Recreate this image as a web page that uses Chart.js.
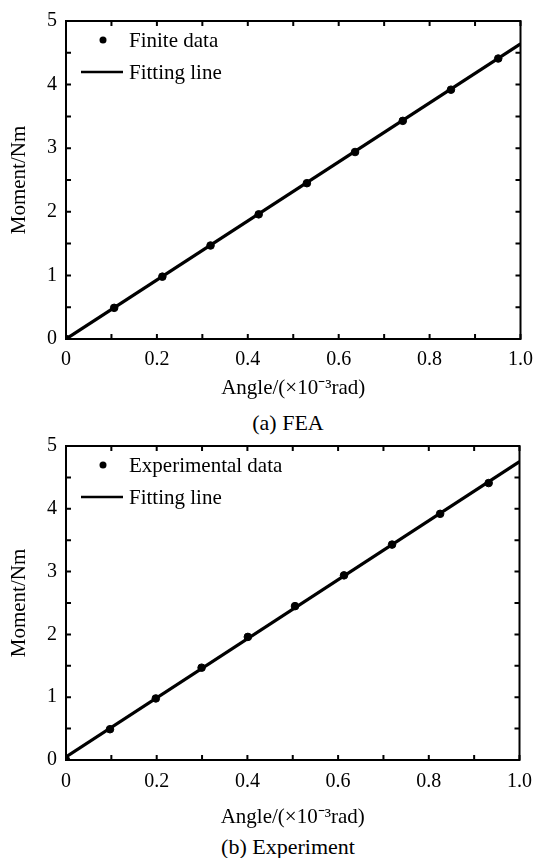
<!DOCTYPE html>
<html>
<head>
<meta charset="utf-8">
<script src="https://cdn.jsdelivr.net/npm/chart.js@4.4.1/dist/chart.umd.min.js"></script>
<style>
  html, body { margin: 0; padding: 0; background: #fff; }
  body { width: 542px; height: 858px; position: relative; overflow: hidden; font-family: "Liberation Serif", "Times New Roman", serif; }
  .panel { position: absolute; left: 0; }
  .caption { position: absolute; left: 0; width: 576px; text-align: center; font-size: 22px; line-height: 26px; color: #000; }
</style>
</head>
<body>
<canvas id="feaChart" class="panel" width="542" height="405" style="top:0"></canvas>
<div class="caption" style="top:410px">(a) FEA</div>
<canvas id="expChart" class="panel" width="542" height="405" style="top:425px"></canvas>
<div class="caption" style="top:834px">(b) Experiment</div>
<script>
const SERIF = '"Liberation Serif", "Times New Roman", serif';

// (a) FEA
const feaAngle = [0, 0.106, 0.212, 0.318, 0.424, 0.530, 0.636, 0.741, 0.847, 0.951];
const feaMoment = [0, 0.49, 0.98, 1.47, 1.96, 2.45, 2.94, 3.43, 3.92, 4.41];
const feaFitAngle = [0, 1.0];
const feaFitMoment = [0, 4.64];

// (b) Experiment
const expAngle = [0, 0.097, 0.198, 0.299, 0.401, 0.505, 0.613, 0.719, 0.825, 0.932];
const expMoment = [0, 0.49, 0.98, 1.47, 1.96, 2.45, 2.94, 3.43, 3.92, 4.41];
const expFitAngle = [0, 1.0];
const expFitMoment = [0.05, 4.75];

// tick labels
const xTickValues = [0, 0.2, 0.4, 0.6, 0.8, 1.0];
const xTickLabels = ['0', '0.2', '0.4', '0.6', '0.8', '1.0'];
const yTickValues = [0, 1, 2, 3, 4, 5];
const yTickLabels = ['0', '1', '2', '3', '4', '5'];

function lookup(values, labels, v) {
  const i = values.findIndex(t => Math.abs(t - v) < 1e-6);
  return i < 0 ? '' : labels[i];
}

function toPoints(xs, ys) {
  return xs.map((x, i) => ({ x, y: ys[i] }));
}

// box frame with inward ticks on all four sides
const frameTicks = {
  id: 'frameTicks',
  afterDraw(chart) {
    const { ctx, chartArea: a, scales: { x, y } } = chart;
    ctx.save();
    ctx.strokeStyle = '#000';
    ctx.lineWidth = 2;
    ctx.beginPath();
    x.ticks.forEach(t => {
      const px = x.getPixelForValue(t.value);
      ctx.moveTo(px, a.bottom); ctx.lineTo(px, a.bottom - 5);
      ctx.moveTo(px, a.top); ctx.lineTo(px, a.top + 5);
    });
    y.ticks.forEach(t => {
      const py = y.getPixelForValue(t.value);
      ctx.moveTo(a.left, py); ctx.lineTo(a.left + 5, py);
      ctx.moveTo(a.right, py); ctx.lineTo(a.right - 5, py);
    });
    ctx.stroke();
    ctx.strokeRect(a.left, a.top, a.right - a.left, a.bottom - a.top);
    ctx.restore();
  }
};

// legend drawn inside the plot, top-left
const insideLegend = {
  id: 'insideLegend',
  afterDraw(chart) {
    const { ctx, chartArea: a } = chart;
    const ds = chart.data.datasets;
    ctx.save();
    ctx.fillStyle = '#000';
    ctx.strokeStyle = '#000';
    ctx.font = '21px ' + SERIF;
    ctx.textBaseline = 'middle';
    const row1 = a.top + 19, row2 = a.top + 51;
    ctx.beginPath();
    ctx.arc(a.left + 37, row1, 3.5, 0, Math.PI * 2);
    ctx.fill();
    ctx.fillText(ds[0].label, a.left + 63, row1 + 1);
    ctx.lineWidth = 2.5;
    ctx.beginPath();
    ctx.moveTo(a.left + 15, row2); ctx.lineTo(a.left + 57, row2);
    ctx.stroke();
    ctx.fillText(ds[1].label, a.left + 63, row2 + 1);
    ctx.restore();
  }
};

function buildChart(canvasId, pts, fit, names, geom) {
  const tickFont = { family: SERIF, size: 20 };
  const titleFont = { family: SERIF, size: 21 };
  return new Chart(document.getElementById(canvasId), {
    type: 'scatter',
    data: {
      datasets: [
        { label: names[0], data: pts, backgroundColor: '#000', borderColor: '#000',
          pointRadius: 3.8, pointHoverRadius: 3.8, order: 0 },
        { type: 'line', label: names[1], data: fit, borderColor: '#000', borderWidth: 3.2,
          pointRadius: 0, fill: false, tension: 0, order: 1 }
      ]
    },
    options: {
      responsive: false,
      animation: false,
      layout: { padding: { top: geom.top, right: 19, bottom: 0, left: 0 } },
      plugins: { legend: { display: false }, tooltip: { enabled: false } },
      scales: {
        x: {
          type: 'linear', min: 0, max: 1,
          grid: { display: false, drawTicks: false }, border: { display: false },
          ticks: { stepSize: 0.1, autoSkip: false, maxRotation: 0, padding: geom.xTickPad,
                   color: '#000', font: tickFont, callback: v => lookup(xTickValues, xTickLabels, v) },
          title: { display: true, text: 'Angle/(×10⁻³rad)', color: '#000', font: titleFont,
                   padding: { top: 0, bottom: geom.xTitlePad } },
          afterFit: s => { s.height = geom.xAxisH; }
        },
        y: {
          type: 'linear', min: 0, max: 5,
          grid: { display: false, drawTicks: false }, border: { display: false },
          ticks: { stepSize: 0.5, autoSkip: false, padding: 9, color: '#000', font: tickFont,
                   callback: v => lookup(yTickValues, yTickLabels, v) },
          title: { display: true, text: 'Moment/Nm', color: '#000', font: titleFont,
                   padding: { top: 7, bottom: 0 } },
          afterFit: s => { s.width = 66; }
        }
      }
    },
    plugins: [frameTicks, insideLegend]
  });
}

buildChart('feaChart', toPoints(feaAngle, feaMoment), toPoints(feaFitAngle, feaFitMoment),
  ['Finite data', 'Fitting line'], { top: 21, xAxisH: 66, xTickPad: 9, xTitlePad: 4 });
buildChart('expChart', toPoints(expAngle, expMoment), toPoints(expFitAngle, expFitMoment),
  ['Experimental data', 'Fitting line'], { top: 16, xAxisH: 70, xTickPad: 10, xTitlePad: 0 });
</script>
</body>
</html>
